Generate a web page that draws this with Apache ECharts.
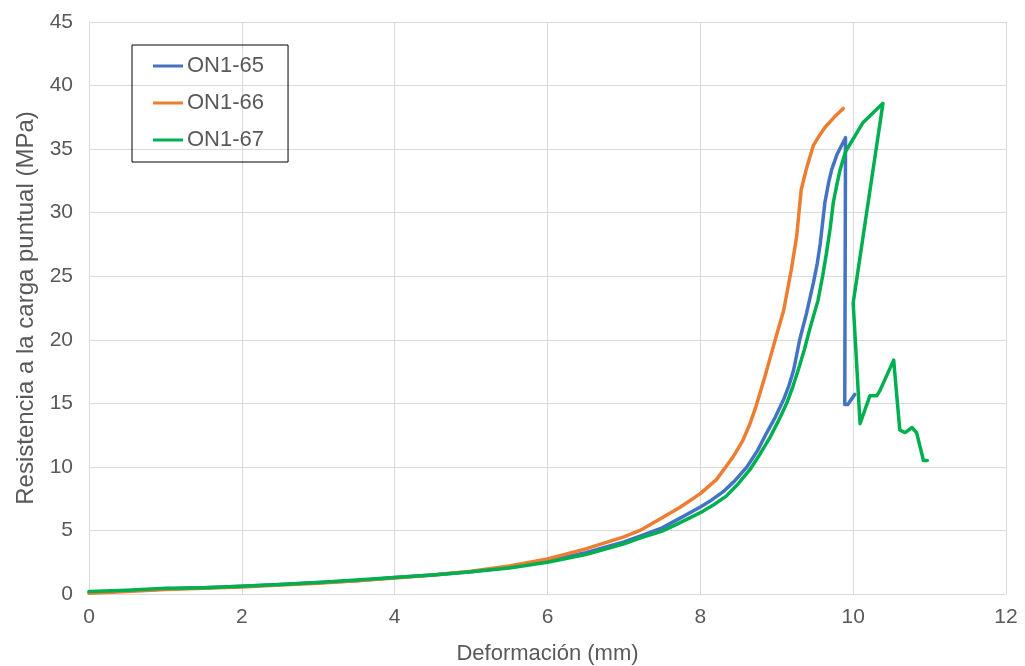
<!DOCTYPE html>
<html>
<head>
<meta charset="utf-8">
<script src="https://cdn.jsdelivr.net/npm/echarts@6/dist/echarts.min.js"></script>
<style>
  html, body { margin: 0; padding: 0; background: #fff; }
  #chart { width: 1025px; height: 666px; }
</style>
</head>
<body>
<div id="chart"></div>
<script>
// Curvas deformación – resistencia (pares [mm, MPa])
const seriesNames = ['ON1-65', 'ON1-66', 'ON1-67'];
const seriesColors = ['#4472C4', '#ED7D31', '#00B050'];

const on165 = [
  [0, 0.1], [0.5, 0.25], [1, 0.4], [1.5, 0.5], [2, 0.6], [2.5, 0.75], [3, 0.9],
  [3.5, 1.05], [4, 1.3], [4.5, 1.5], [5, 1.75], [5.5, 2.1], [6, 2.6], [6.5, 3.25],
  [7, 4.1], [7.21, 4.55], [7.5, 5.2], [7.73, 5.95], [8, 6.85], [8.15, 7.4], [8.3, 8.05],
  [8.45, 8.9], [8.61, 10.0], [8.75, 11.3], [8.87, 12.7], [8.98, 13.9], [9.09, 15.3],
  [9.16, 16.4], [9.22, 17.6], [9.3, 20.0], [9.39, 22.1], [9.48, 24.5], [9.53, 26.0],
  [9.57, 27.6], [9.63, 30.8], [9.68, 32.4], [9.72, 33.4], [9.79, 34.6], [9.85, 35.3],
  [9.9, 35.9], [9.89, 14.9], [9.93, 14.9], [10.02, 15.7]
];

const on166 = [
  [0, 0.05], [0.5, 0.2], [1, 0.35], [1.5, 0.45], [2, 0.55], [2.5, 0.7], [3, 0.85],
  [3.5, 1.05], [4, 1.25], [4.5, 1.5], [5, 1.8], [5.5, 2.2], [6, 2.75], [6.5, 3.55],
  [7, 4.5], [7.21, 5.0], [7.5, 6.0], [7.73, 6.8], [8, 7.9], [8.21, 9.0], [8.43, 10.8],
  [8.55, 12.0], [8.65, 13.4], [8.72, 14.6], [8.78, 15.8], [8.85, 17.2], [8.91, 18.5],
  [8.98, 20.0], [9.09, 22.3], [9.19, 25.5], [9.26, 28.1], [9.32, 31.8], [9.39, 33.5],
  [9.48, 35.3], [9.55, 36.0], [9.63, 36.7], [9.75, 37.5], [9.87, 38.2]
];

const on167 = [
  [0, 0.2], [0.5, 0.3], [1, 0.45], [1.5, 0.5], [2, 0.6], [2.5, 0.75], [3, 0.9],
  [3.5, 1.1], [4, 1.3], [4.5, 1.5], [5, 1.75], [5.5, 2.05], [6, 2.5], [6.5, 3.1],
  [7, 3.95], [7.21, 4.4], [7.5, 4.95], [7.73, 5.6], [8, 6.4], [8.17, 7.0], [8.34, 7.7],
  [8.5, 8.7], [8.65, 9.8], [8.78, 11.0], [8.91, 12.3], [9.02, 13.6], [9.13, 15.0],
  [9.21, 16.3], [9.28, 17.6], [9.36, 19.2], [9.43, 20.8], [9.54, 23.1], [9.6, 25.0],
  [9.65, 26.8], [9.7, 28.8], [9.74, 30.8], [9.79, 32.3], [9.83, 33.4], [9.9, 34.8],
  [9.98, 35.6], [10.13, 37.1], [10.39, 38.6], [10.0, 22.9], [10.09, 13.4],
  [10.22, 15.6], [10.31, 15.6], [10.35, 16.0], [10.53, 18.4], [10.61, 12.9],
  [10.68, 12.7], [10.77, 13.1], [10.83, 12.7], [10.92, 10.5], [10.97, 10.5]
];

const seriesData = [on165, on166, on167];

const xTitle = 'Deformación (mm)';
const yTitle = 'Resistencia a la carga puntual (MPa)';

const textColor = '#595959';
const gridColor = '#D9D9D9';
const fontFamily = 'Liberation Sans, Arial, sans-serif';

const chart = echarts.init(document.getElementById('chart'), null, { renderer: 'canvas' });

chart.setOption({
  animation: false,
  backgroundColor: '#fff',
  grid: {
    left: 89, right: 19, top: 22, bottom: 72,
    containLabel: false,
    outerBoundsMode: 'none'
  },
  legend: {
    orient: 'vertical',
    left: 132,
    top: 45,
    data: seriesNames,
    icon: 'rect',
    itemWidth: 30,
    itemHeight: 3,
    itemGap: 15,
    padding: [10, 24, 11, 21],
    borderColor: '#000',
    borderWidth: 1,
    textStyle: { color: textColor, fontSize: 22, fontFamily, padding: [0, 0, 0, -1], lineHeight: 22 }
  },
  xAxis: {
    type: 'value',
    min: 0, max: 12, interval: 2,
    name: xTitle,
    nameLocation: 'middle',
    nameGap: 49,
    nameTextStyle: { color: textColor, fontSize: 22, fontFamily },
    axisLine: { show: true, lineStyle: { color: gridColor, width: 1 } },
    axisTick: { show: false },
    axisLabel: { color: textColor, fontSize: 21, fontFamily, margin: 13 },
    splitLine: { show: true, lineStyle: { color: gridColor, width: 1 } }
  },
  yAxis: {
    type: 'value',
    min: 0, max: 45, interval: 5,
    name: yTitle,
    nameLocation: 'middle',
    nameGap: 48,
    nameTextStyle: { color: textColor, fontSize: 24, fontFamily },
    axisLine: { show: true, lineStyle: { color: gridColor, width: 1 } },
    axisTick: { show: false },
    axisLabel: { color: textColor, fontSize: 21, fontFamily, margin: 16 },
    splitLine: { show: true, lineStyle: { color: gridColor, width: 1 } }
  },
  series: seriesNames.map((name, i) => ({
    name,
    type: 'line',
    data: seriesData[i],
    showSymbol: false,
    symbol: 'none',
    smooth: false,
    color: seriesColors[i],
    lineStyle: { width: 3.5, color: seriesColors[i], cap: 'round', join: 'round' },
    z: 2 + i
  }))
});
</script>
</body>
</html>
